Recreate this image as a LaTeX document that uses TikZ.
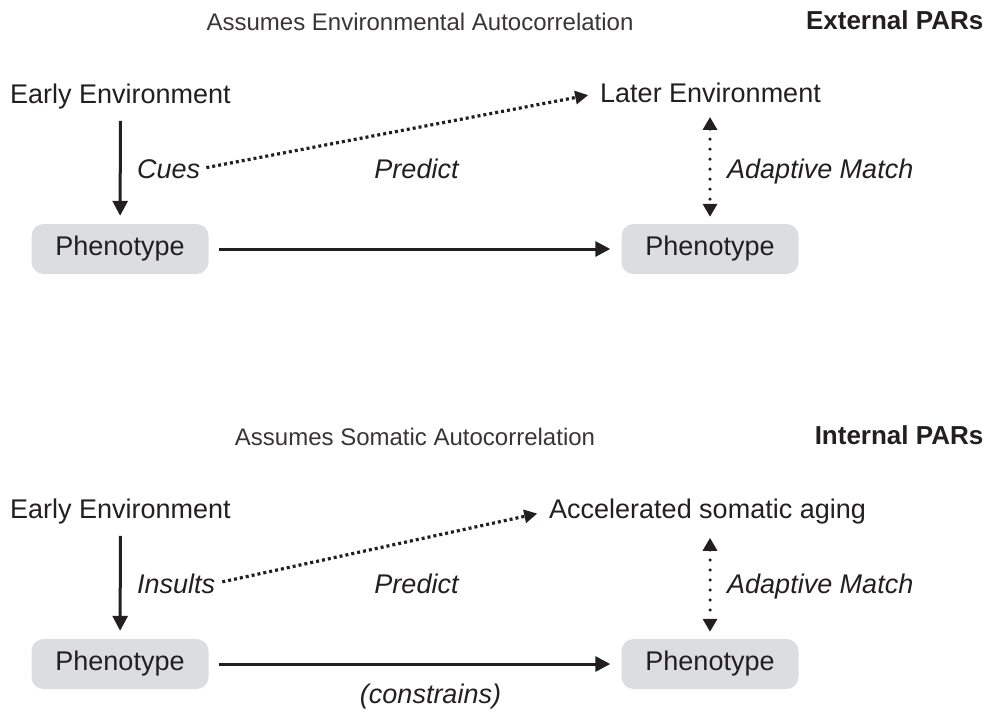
\documentclass[tikz,border=0pt]{standalone}
\usepackage{fontspec}
\setmainfont{Liberation Sans}
\usetikzlibrary{arrows.meta,calc}
\definecolor{ink}{HTML}{231F20}
\definecolor{boxgray}{HTML}{DCDDDE}
\tikzset{
  lbl/.style={inner sep=0pt, anchor=base, text=ink, font=\fontsize{27}{30}\selectfont},
  ital/.style={lbl, font=\fontsize{27}{30}\selectfont\itshape},
  ttl/.style={inner sep=0pt, anchor=base, text=ink!90, font=\fontsize{24}{28}\selectfont},
  bttl/.style={inner sep=0pt, anchor=base east, text=ink, font=\fontsize{26}{30}\selectfont\bfseries},
  phen/.style={fill=boxgray, rounded corners=12pt, minimum width=177pt, minimum height=50pt,
    inner sep=0pt, text=ink, font=\fontsize{27}{30}\selectfont},
  solidarrow/.style={draw=ink, line width=3pt, -{Triangle[width=15pt,length=15pt]}},
  dotarrow/.style={draw=ink, line width=3.2pt, dash pattern=on 3pt off 3pt,
    -{Triangle[width=13pt,length=13pt]}},
  vdotarrow/.style={draw=ink, line width=3.5pt, line cap=round, dash pattern=on 0pt off 10pt,
    {Triangle[width=14pt,length=13pt]}-{Triangle[width=14pt,length=13pt]}},
}
\begin{document}
\begin{tikzpicture}[x=1pt,y=-1pt]
\useasboundingbox (0,0) rectangle (984,715);

% ---------- Top panel ----------
\node[ttl] (t1) at (420,30) {Assumes Environmental Autocorrelation};
\node[bttl] (e1) at (983.5,29) {External PARs};

\node[lbl] (ee1) at (120.5,103) {Early Environment};
\node[lbl, anchor=base west] (le1) at (600,102.5) {Later Environment};
\node[phen] (ph1) at (120,249) {Phenotype};
\node[phen] (ph2) at (710,249) {Phenotype};
\node[ital, anchor=base west] (cu1) at (137,178) {Cues};
\node[ital] (pr1) at (416.5,178) {Predict};
\node[ital, anchor=base west] (am1) at (727,178) {Adaptive Match};

\draw[solidarrow, shorten <=12pt, shorten >=8pt] (ee1) -- (ph1);
\draw[solidarrow, shorten <=10pt, shorten >=11pt] (ph1) -- (ph2);
\draw[dotarrow, shorten <=6pt, shorten >=12pt] (cu1.east) -- (le1.west);
\draw[vdotarrow, shorten <=14pt, shorten >=7pt] (ph2.north |- le1.south) -- (ph2.north);

% ---------- Bottom panel ----------
\node[ttl] (t2) at (415,445) {Assumes Somatic Autocorrelation};
\node[bttl] (e2) at (983.5,444) {Internal PARs};

\node[lbl] (ee2) at (120.5,518) {Early Environment};
\node[lbl, anchor=base west] (ac2) at (549,518) {Accelerated somatic aging};
\node[phen] (ph3) at (120,664) {Phenotype};
\node[phen] (ph4) at (710,664) {Phenotype};
\node[ital, anchor=base west] (in2) at (137,593) {Insults};
\node[ital] (pr2) at (416.5,593) {Predict};
\node[ital, anchor=base west] (am2) at (727,593) {Adaptive Match};
\node[ital] (co2) at (430.5,703) {(constrains)};

\draw[solidarrow, shorten <=12pt, shorten >=8pt] (ee2) -- (ph3);
\draw[solidarrow, shorten <=10pt, shorten >=11pt] (ph3) -- (ph4);
\draw[dotarrow, shorten <=7pt, shorten >=12pt] (in2.east) -- (ac2.west);
\draw[vdotarrow, shorten <=14pt, shorten >=7pt] (ph4.north |- ac2.south) -- (ph4.north);
\end{tikzpicture}
\end{document}
